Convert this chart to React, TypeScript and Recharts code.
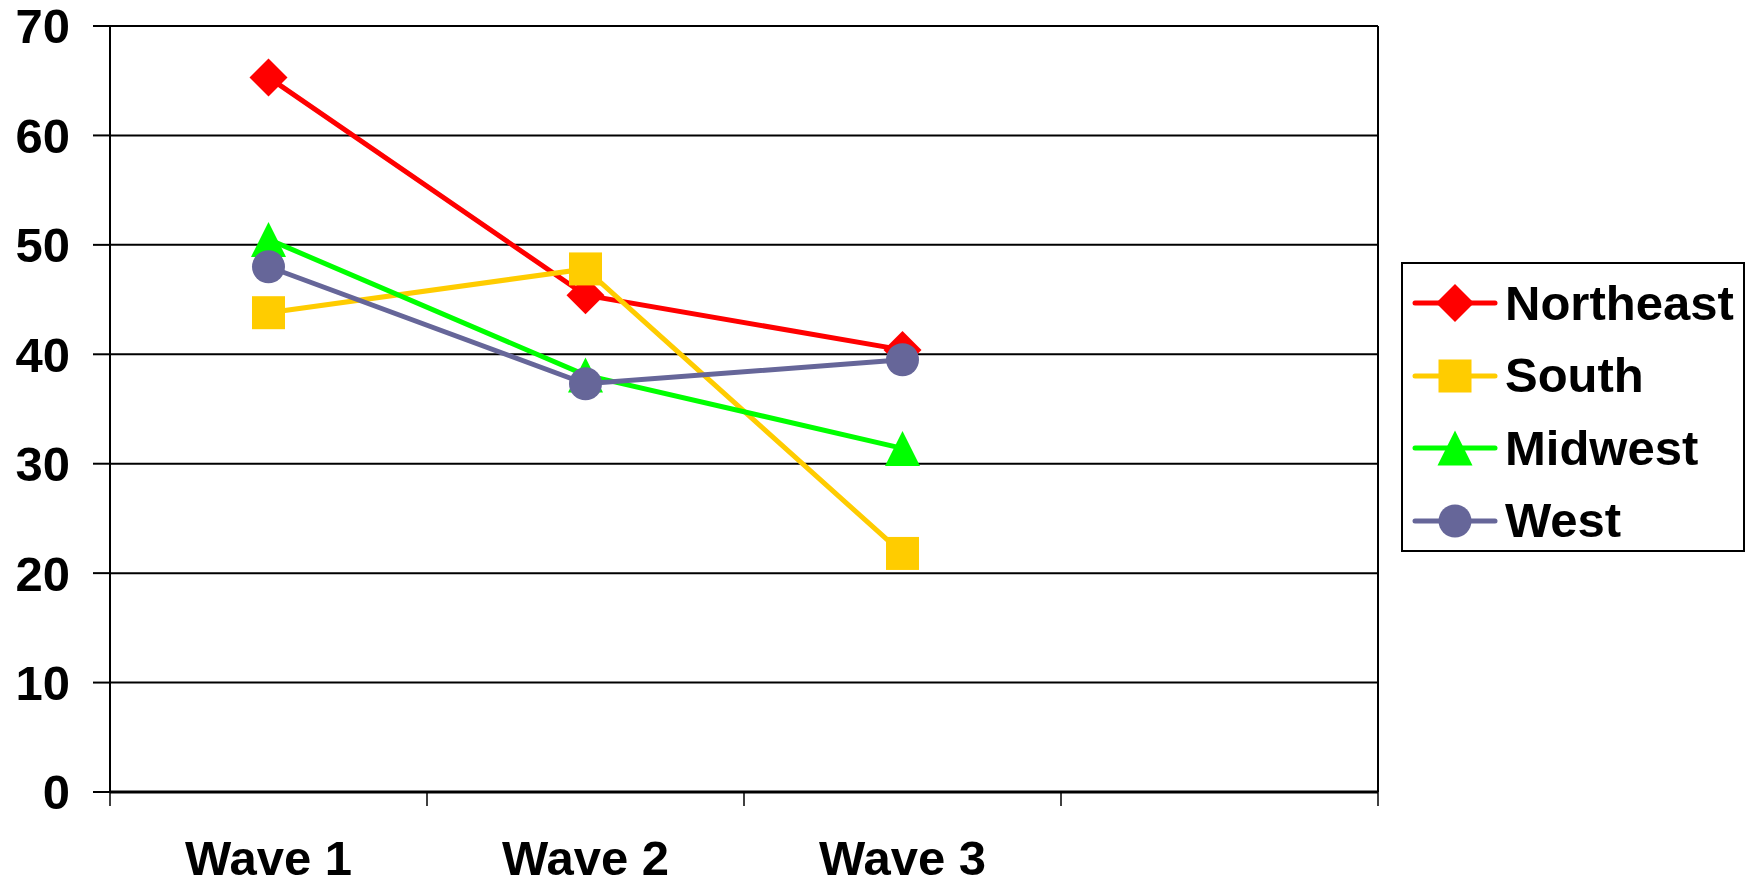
import React from 'react';
import { LineChart, Line, XAxis, YAxis, CartesianGrid } from 'recharts';

const waves = ['Wave 1', 'Wave 2', 'Wave 3', ''];
const northeast = [65.3, 45.4, 40.4, null];
const south = [43.8, 47.8, 21.8, null];
const midwest = [50.5, 38.1, 31.4, null];
const west = [48.0, 37.3, 39.5, null];
const yTicks = [0, 10, 20, 30, 40, 50, 60, 70];

const FONT = '"Liberation Sans", Arial, Helvetica, sans-serif';
const FONT_SIZE = 49;
const X_TICK_MARGIN = 48;

const series = [
  { key: 'Northeast', values: northeast, color: '#FF0000', shape: 'diamond' },
  { key: 'South', values: south, color: '#FFCC00', shape: 'square' },
  { key: 'Midwest', values: midwest, color: '#00FF00', shape: 'triangle' },
  { key: 'West', values: west, color: '#666699', shape: 'circle' },
];

const data = waves.map((wave, i) => {
  const row: Record<string, any> = { wave };
  series.forEach((s) => {
    row[s.key] = s.values[i];
  });
  return row;
});

const Marker = ({ shape, cx, cy, color }: any) => {
  if (shape === 'diamond') {
    const r = 19;
    return (
      <polygon
        points={`${cx},${cy - r} ${cx + r},${cy} ${cx},${cy + r} ${cx - r},${cy}`}
        fill={color}
      />
    );
  }
  if (shape === 'square') {
    const h = 16.5;
    return <rect x={cx - h} y={cy - h} width={h * 2} height={h * 2} fill={color} />;
  }
  if (shape === 'triangle') {
    const h = 17.5;
    return (
      <polygon
        points={`${cx},${cy - h} ${cx + h},${cy + h} ${cx - h},${cy + h}`}
        fill={color}
      />
    );
  }
  return <circle cx={cx} cy={cy} r={16.5} fill={color} />;
};

// category label in the middle of its band, tick marks on the band edges
const WaveTick = (props: any) => {
  const { x, y, payload, index, visibleTicksCount } = props;
  const half = payload.offset || 0;
  const axisY = y - X_TICK_MARGIN;
  const edges = [x - half];
  if (index === visibleTicksCount - 1) edges.push(x + half);
  return (
    <g>
      {edges.map((ex) => (
        <line key={ex} x1={ex} x2={ex} y1={axisY} y2={axisY + 14} stroke="#000" strokeWidth={1.5} />
      ))}
      <text
        x={x}
        y={y}
        dy="0.71em"
        textAnchor="middle"
        fill="#000"
        fontSize={FONT_SIZE}
        fontWeight={700}
        fontFamily={FONT}
      >
        {payload.value}
      </text>
    </g>
  );
};

const LegendBox = () => (
  <div
    style={{
      position: 'absolute',
      left: 1401,
      top: 262,
      width: 344,
      height: 290,
      boxSizing: 'border-box',
      border: '2px solid #000',
      background: '#fff',
      paddingTop: 3,
    }}
  >
    {series.map((s) => (
      <div key={s.key} style={{ display: 'flex', alignItems: 'center', height: 72.5 }}>
        <svg width={102} height={50} style={{ flex: 'none' }}>
          <line x1={12} x2={92} y1={25} y2={25} stroke={s.color} strokeWidth={5} strokeLinecap="round" />
          <Marker shape={s.shape} cx={52} cy={25} color={s.color} />
        </svg>
        <span
          style={{
            fontFamily: FONT,
            fontWeight: 700,
            fontSize: FONT_SIZE,
            color: '#000',
            lineHeight: 1,
          }}
        >
          {s.key}
        </span>
      </div>
    ))}
  </div>
);

export default function App() {
  return (
    <div style={{ position: 'absolute', left: 0, top: 0, width: 1754, height: 886, background: '#fff' }}>
      <LineChart
        width={1754}
        height={886}
        data={data}
        margin={{ top: 26, right: 376, bottom: 0, left: 0 }}
      >
        <CartesianGrid
          stroke="#000"
          strokeWidth={2}
          verticalCoordinatesGenerator={({ offset }: any) => [offset.left + offset.width]}
        />
        <XAxis
          dataKey="wave"
          scale="band"
          interval={0}
          height={94}
          tickLine={false}
          tickSize={0}
          tickMargin={X_TICK_MARGIN}
          axisLine={{ stroke: '#000', strokeWidth: 3 }}
          tick={<WaveTick />}
        />
        <YAxis
          domain={[0, 70]}
          ticks={yTicks}
          interval={0}
          width={110}
          tickSize={17}
          tickMargin={23}
          axisLine={{ stroke: '#000', strokeWidth: 2 }}
          tickLine={{ stroke: '#000', strokeWidth: 2 }}
          tick={{ fill: '#000', fontSize: FONT_SIZE, fontWeight: 700, fontFamily: FONT }}
        />
        {series.map((s) => (
          <Line
            key={s.key}
            dataKey={s.key}
            type="linear"
            stroke={s.color}
            strokeWidth={5}
            isAnimationActive={false}
            activeDot={false}
            dot={(p: any) =>
              p.cy == null || p.value == null ? (
                <g key={`${s.key}-${p.index}`} />
              ) : (
                <Marker key={`${s.key}-${p.index}`} shape={s.shape} cx={p.cx} cy={p.cy} color={s.color} />
              )
            }
          />
        ))}
      </LineChart>
      <LegendBox />
    </div>
  );
}
